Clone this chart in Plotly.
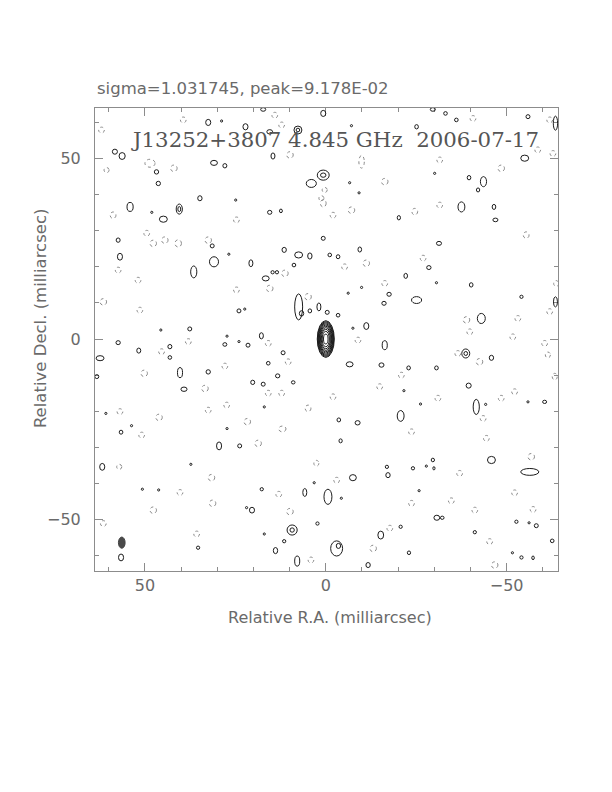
import plotly.graph_objects as go

# ---------------- data (milliarcsec) ----------------
# positive contour islands: centre x, centre y, full width, full height
pos_x = [32.5, 28.8, 22.2, 15.5, 7.7, 0.7, 17.3, 58.3, 56.3, 14.6, 30.9, 27.9, 46.8, 46.3, 0.7, 4.0,
         34.8, 24.9, 54.1, 48.1, 40.5, 44.9, 15.5, 12.4, 57.4, 31.4, 0.7, 56.9, 30.9, 20.7, 36.5, 11.5,
         7.5, 4.4, 8.8, 16.6, 14.7, 13.5, 26.8, 7.5, 4.4, 1.9, -0.4, 24.0, 22.4, 17.8, 37.6, 45.6, 27.3,
         -29.6, -33.1, -36.1, -55.9, -63.5, -7.1, -25.1, -55.0, -39.6, -43.6, -42.1, -37.5, -46.5, -46.9,
         -20.2, -6.6, -9.2, -31.3, -9.4, -1.1, -3.4, -28.5, -22.1, -30.6, -40.2, -30.1, -6.2, -9.9, -17.5,
         -16.1, -25.1, -54.1, -63.5, -43.0, -3.4, -11.2, -7.5,
         57.4, 51.7, 43.1, 43.1, 62.4, 63.3, 40.3, 32.5, 39.2, 27.9, 21.5, 24.0, 11.8, 15.9, 13.3, 20.2,
         17.3, 9.0, 17.0, 60.8, 56.6, 53.7, 27.3, 29.5, 23.8, 61.8, 37.3, 46.2, 50.7, 17.7, 20.4, 21.9,
         5.8, 3.2, -0.6, 9.3, 2.3, 17.0, 11.5, 35.3, 13.9, 7.9, 56.6,
         -16.3, -38.7, -45.8, -6.6, -15.4, -22.9, -30.6, -21.6, -39.5, -26.2, -20.7, -41.6, -44.2, -55.9,
         -60.5, -3.6, -8.8, -4.1, -29.6, -45.8, -56.4, -16.9, -17.2, -24.1, -27.8, -29.9, -7.5, -4.3,
         -25.8, -30.7, -32.2, -52.7, -58.2, -56.2, -20.7, -15.2, -41.2, -62.6, -3.0, -23.0, -51.6, -54.1,
         -57.3, -11.7]
pos_y = [60.0, 60.4, 58.8, 57.4, 57.9, 62.5, 63.6, 51.9, 50.7, 50.7, 48.8, 48.0, 46.3, 43.1, 45.4, 43.1,
         39.0, 38.5, 36.6, 35.1, 36.0, 33.2, 35.1, 35.5, 27.4, 25.8, 27.9, 22.8, 21.4, 21.0, 18.6, 24.7,
         23.3, 23.0, 20.5, 16.8, 18.5, 18.5, 23.5, 8.9, 7.8, 8.9, 7.4, 7.8, 8.3, 0.9, 2.8, 2.5, 0.8,
         63.6, 62.5, 60.7, 61.6, 59.8, 59.1, 58.8, 50.1, 44.7, 43.6, 41.3, 36.6, 36.6, 33.0,
         33.6, 43.3, 40.5, 26.5, 24.8, 23.3, 22.8, 19.8, 17.5, 15.6, 15.0, 45.9, 12.7, 14.3, 12.4,
         9.9, 10.8, 11.7, 10.3, 5.7, 6.6, 3.6, 3.0,
         -1.0, -3.2, -2.1, -5.1, -5.3, -10.4, -9.3, -9.1, -13.9, -1.5, -1.7, -0.7, -3.8, -6.7, -10.2, -12.0,
         -12.5, -12.0, -18.8, -20.6, -25.8, -24.0, -24.8, -29.6, -29.6, -35.4, -34.7, -41.8, -41.6, -41.6, -47.4, -46.7,
         -42.5, -39.8, -43.7, -52.9, -51.1, -54.0, -56.0, -57.8, -58.6, -61.5, -60.5,
         -1.7, -4.0, -5.2, -7.0, -7.2, -8.0, -8.0, -14.3, -12.9, -18.0, -21.3, -18.8, -18.1, -17.4,
         -17.4, -22.4, -23.2, -28.2, -33.5, -33.5, -36.8, -35.4, -37.7, -35.8, -35.2, -35.8, -38.4, -44.1,
         -42.0, -49.5, -49.5, -50.6, -51.7, -50.9, -52.0, -54.3, -53.5, -55.9, -58.0, -59.2, -59.2, -60.5,
         -60.6, -62.6]
pos_w = [1.4, 0.6, 1.4, 1.6, 2.2, 1.4, 1.4, 1.4, 1.7, 1.1, 1.9, 1.1, 1.2, 1.2, 3.3, 2.8,
         1.2, 0.6, 1.7, 0.6, 1.7, 2.2, 1.2, 0.8, 1.1, 1.1, 1.1, 1.4, 2.5, 1.1, 1.7, 1.2,
         2.2, 1.2, 1.0, 1.9, 0.9, 0.9, 0.6, 2.2, 1.0, 1.1, 1.1, 1.1, 0.6, 1.1, 1.1, 0.6, 0.6,
         1.4, 1.0, 1.0, 1.1, 1.2, 0.6, 1.0, 2.2, 1.0, 1.7, 0.9, 1.9, 1.0, 1.4,
         0.9, 0.6, 0.6, 1.4, 1.0, 1.0, 1.0, 1.2, 1.0, 0.6, 1.0, 0.6, 0.6, 0.6, 1.2,
         1.2, 2.8, 0.9, 1.1, 2.2, 1.0, 1.4, 0.6,
         1.2, 1.1, 1.1, 1.0, 2.2, 1.1, 1.4, 1.2, 1.7, 1.1, 1.1, 0.6, 1.1, 1.0, 1.2, 1.1,
         1.1, 1.0, 0.6, 0.6, 1.0, 0.6, 0.6, 1.4, 1.1, 1.4, 0.6, 0.6, 0.6, 0.9, 1.4, 0.6,
         1.1, 0.6, 2.2, 2.8, 0.9, 0.6, 0.9, 0.9, 1.2, 1.4, 1.4,
         1.4, 2.2, 1.2, 1.9, 1.4, 1.0, 1.0, 0.6, 1.4, 0.6, 1.9, 1.7, 0.6, 0.6,
         1.1, 1.0, 1.4, 0.9, 0.9, 2.2, 5.0, 0.9, 1.2, 0.9, 0.6, 0.6, 1.9, 0.6,
         0.6, 1.6, 1.0, 0.9, 1.1, 0.6, 0.9, 1.6, 0.9, 1.0, 3.3, 0.9, 0.6, 0.9,
         0.7, 1.2]
pos_h = [1.7, 0.6, 1.7, 1.2, 2.2, 1.7, 1.0, 1.4, 1.9, 1.7, 1.4, 1.2, 1.2, 1.2, 2.8, 2.2,
         1.4, 0.6, 2.5, 0.6, 2.8, 1.7, 1.1, 1.0, 1.2, 1.1, 1.1, 1.9, 2.8, 1.9, 3.3, 1.4,
         1.7, 1.7, 1.0, 1.4, 0.9, 0.9, 0.6, 7.2, 1.1, 2.2, 1.1, 1.1, 0.6, 1.7, 1.1, 0.6, 0.6,
         1.0, 1.0, 1.0, 1.1, 3.9, 0.6, 1.2, 1.7, 1.2, 2.8, 1.1, 2.8, 1.4, 1.0,
         1.2, 0.6, 0.6, 1.1, 1.4, 1.0, 1.1, 1.1, 1.4, 0.6, 1.2, 0.6, 0.6, 0.6, 1.1,
         1.1, 1.9, 0.9, 2.8, 2.8, 1.0, 1.9, 0.6,
         1.1, 1.4, 1.2, 1.0, 1.4, 1.1, 2.8, 1.2, 1.2, 1.0, 1.1, 0.6, 1.1, 1.0, 1.1, 1.2,
         1.1, 0.9, 0.6, 0.6, 1.1, 0.6, 0.6, 2.2, 1.1, 1.9, 0.6, 0.6, 0.6, 0.9, 1.6, 0.6,
         2.2, 0.6, 4.2, 2.8, 0.9, 0.6, 0.9, 0.9, 1.7, 2.8, 1.9,
         2.5, 2.5, 1.4, 1.4, 1.2, 1.1, 1.1, 0.6, 1.4, 0.6, 3.0, 4.2, 0.6, 0.6,
         0.9, 1.1, 1.2, 1.1, 1.0, 2.0, 1.9, 0.9, 1.4, 0.9, 0.6, 0.9, 1.7, 0.6,
         0.6, 1.4, 0.9, 0.9, 1.1, 0.6, 0.9, 2.2, 0.9, 1.0, 4.2, 1.0, 0.6, 0.9,
         1.0, 1.4]

# second (inner) contour of the brighter islands
in2_x = [7.7, 0.7, 40.5, 6.7, 9.3, -38.7, -3.5]
in2_y = [57.9, 45.4, 36.0, 7.1, -52.9, -4.0, -57.3]
in2_w = [1.0, 1.5, 0.8, 1.2, 1.2, 1.0, 1.2]
in2_h = [1.0, 1.2, 1.4, 1.5, 1.2, 1.1, 1.4]

# negative contour islands (dotted)
neg_x = [62.0, 48.6, 42.0, 39.4, 14.1, 12.2, 9.9, 58.8, 47.7, 44.5, 49.5, 32.5, 40.8, 11.3, 24.7, 15.5,
         4.9, 51.4, 61.5, 0.7, 24.7, 60.6, 51.9, 57.4, -9.9, -16.3, -31.5, -48.5, -2.0, -7.1, -24.6,
         -31.5, -55.4, -11.2, -5.2, -16.3, -26.9, -38.9, -53.1, -61.9, -63.7, 1.2, 0.3, -40.7, -61.9,
         -62.8, -58.6, 38.0, 45.4, 50.2, 33.4, 15.9, 12.2, 10.4, 15.9, 56.9, 46.1, 32.5, 27.4, 21.7,
         12.0, 4.9, 50.9, 18.7, 31.6, 40.3, 13.0, 31.3, 47.7, 9.9, 61.5, 35.7, 4.1, 2.6, 57.1, 27.9,
         -8.9, -39.8, -51.7, -60.5, -36.5, -42.5, -20.9, -14.9, -2.0, -31.0, -52.2, -63.3, -48.5,
         -43.5, -23.7, -44.4, -56.8, -37.0, -3.0, -52.2, -23.7, -34.7, -41.2, -57.3, -17.7, -13.1,
         -45.3, -46.7, -61.4]
neg_y = [57.9, 48.7, 47.3, 60.7, 62.0, 59.3, 51.0, 34.3, 26.5, 27.4, 29.3, 27.4, 26.5, 18.2, 13.6, 14.0,
         11.7, 8.0, 10.3, 37.6, 33.0, 46.8, 16.3, 19.1, 49.1, 43.6, 49.6, 47.3, 34.3, 35.7, 35.3,
         37.1, 28.8, 21.0, 20.0, 15.4, 22.4, 5.3, 5.7, 7.6, 15.4, 39.0, 41.3, 61.1, 60.7,
         51.4, 52.4, -0.7, -3.5, -9.5, -13.7, -15.0, -15.0, -6.3, -1.2, -20.1, -21.7, -19.7, -18.3, -22.9,
         -24.9, -19.2, -26.6, -28.9, -38.4, -42.5, -43.0, -45.5, -47.4, -47.8, -51.1, -54.0, -61.2, -34.4, -35.4, -7.5,
         -0.3, 2.0, 0.6, -1.2, -4.0, -6.3, -10.0, -13.2, -16.0, -16.4, -14.6, -10.4, -16.4,
         -22.0, -25.7, -27.5, -32.6, -37.2, -39.1, -42.6, -45.5, -44.8, -47.4, -47.2, -52.4, -58.0,
         -56.1, -62.6, -4.4]
neg_w = [1.6, 2.8, 1.8, 1.6, 1.6, 1.6, 1.8, 1.6, 1.8, 1.8, 1.6, 1.8, 1.8, 1.8, 1.6, 1.8,
         1.8, 1.6, 1.8, 1.6, 1.6, 1.4, 1.6, 1.6, 1.5, 1.8, 1.6, 1.8, 1.6, 1.8, 1.6,
         1.6, 1.6, 1.8, 1.6, 1.6, 1.6, 1.8, 1.6, 1.6, 1.4, 1.4, 1.4, 1.6, 1.6,
         1.6, 1.6, 1.6, 1.6, 1.8, 1.8, 1.6, 1.6, 1.6, 1.6, 1.6, 1.8, 1.6, 1.6, 1.8,
         2.0, 1.6, 1.6, 1.8, 1.8, 1.6, 1.6, 1.8, 1.8, 1.8, 1.6, 1.6, 1.6, 1.4, 1.4, 1.6,
         1.6, 1.6, 1.6, 1.6, 1.6, 1.8, 1.6, 1.6, 1.6, 1.6, 1.6, 1.4, 1.6,
         1.6, 1.6, 1.6, 1.8, 1.6, 1.6, 1.6, 1.6, 1.6, 1.6, 1.6, 1.6, 1.8,
         1.6, 1.8, 1.4]
neg_h = [1.6, 2.2, 1.8, 1.6, 1.6, 1.6, 1.8, 1.8, 1.8, 1.8, 1.6, 1.8, 2.0, 1.8, 1.6, 1.8,
         1.8, 1.6, 1.8, 2.0, 1.6, 1.4, 1.6, 1.6, 3.5, 1.8, 1.6, 1.8, 1.6, 1.8, 1.8,
         1.6, 1.8, 1.8, 1.6, 1.6, 1.6, 1.8, 1.6, 1.6, 1.6, 1.4, 1.4, 1.6, 1.6,
         1.6, 1.6, 1.6, 1.6, 1.8, 1.8, 1.6, 1.6, 1.6, 1.6, 1.6, 1.8, 1.6, 1.6, 1.8,
         1.6, 1.8, 1.6, 1.8, 1.8, 1.6, 1.6, 1.8, 1.8, 1.8, 1.6, 1.6, 1.6, 1.6, 1.4, 1.6,
         1.6, 1.6, 1.6, 1.6, 1.6, 1.8, 1.6, 1.6, 1.6, 1.6, 1.6, 1.8, 1.6,
         1.6, 1.6, 1.6, 1.8, 1.6, 1.6, 1.6, 1.6, 1.6, 1.6, 1.6, 1.6, 1.8,
         1.6, 1.8, 1.6]

# central component: nested contour widths/heights (outermost first)
core_x = 0.0
core_y = 0.0
core_w = [4.7, 4.45, 4.19, 3.91, 3.60, 3.28, 2.91, 2.49, 1.98, 1.26]
core_h = [10.2, 9.66, 9.09, 8.48, 7.82, 7.12, 6.32, 5.41, 4.29, 2.73]

# restoring beam
beam_x, beam_y, beam_w, beam_h = 56.4, -56.4, 1.85, 3.1

x_ticks = [50, 0, -50]
y_ticks = [50, 0, -50]
x_range = [63.8, -64.2]
y_range = [-64.25, 64.0]

header_text = "sigma=1.031745, peak=9.178E-02"
map_title = "J13252+3807 4.845 GHz\u00a0\u00a02006-07-17"
x_title = "Relative R.A. (milliarcsec)"
y_title = "Relative Decl. (milliarcsec)"

# ---------------- figure ----------------
POS_COL = "#1c1c1c"
NEG_COL = "#8a8a8a"
AX_COL = "#8c8c8c"
TXT_COL = "#6a6a6a"

shapes = []


def ell(x, y, w, h, color, dash="solid", fill=None):
    d = dict(type="circle", xref="x", yref="y",
             x0=x - w / 2, x1=x + w / 2, y0=y - h / 2, y1=y + h / 2,
             line=dict(color=color, width=1, dash=dash), layer="above")
    if fill:
        d["fillcolor"] = fill
    return d


for x, y, w, h in zip(neg_x, neg_y, neg_w, neg_h):
    shapes.append(ell(x, y, w, h, NEG_COL, dash="dot"))
for x, y, w, h in zip(pos_x, pos_y, pos_w, pos_h):
    shapes.append(ell(x, y, w, h, POS_COL))
for x, y, w, h in zip(in2_x, in2_y, in2_w, in2_h):
    shapes.append(ell(x, y, w, h, POS_COL))
for w, h in zip(core_w, core_h):
    shapes.append(ell(core_x, core_y, w, h, POS_COL))
shapes.append(ell(beam_x, beam_y, beam_w, beam_h, "#444444", fill="#4a4a4a"))

fig = go.Figure()
fig.add_trace(go.Scatter(x=[], y=[], mode="markers", showlegend=False))

axis_common = dict(
    showline=True, linecolor=AX_COL, linewidth=1, mirror="ticks",
    ticks="inside", ticklen=8, tickwidth=1, tickcolor=AX_COL,
    showgrid=False, zeroline=False,
    tickfont=dict(family="DejaVu Sans", size=16, color=TXT_COL),
    minor=dict(ticks="inside", ticklen=4, tickwidth=1, tickcolor=AX_COL,
               dtick=10, tick0=0, showgrid=False),
)

# page body has an 8px margin, so the figure is 8px smaller than the window
fig.update_layout(
    width=604, height=784,
    margin=dict(l=87, r=54, t=100, b=221),
    paper_bgcolor="white", plot_bgcolor="white",
    showlegend=False,
    xaxis=dict(range=x_range, tickvals=x_ticks, ticktext=["50", "0", "\u221250"],
               ticklabelstandoff=0, **axis_common),
    yaxis=dict(range=y_range, tickvals=y_ticks, ticktext=["50", "0", "\u221250"],
               ticklabelstandoff=10, **axis_common),
    shapes=shapes,
    annotations=[
        dict(text=header_text, xref="paper", yref="paper", x=0.0, y=1.043,
             xanchor="left", yanchor="middle", showarrow=False,
             font=dict(family="DejaVu Sans", size=16.5, color=TXT_COL)),
        dict(text=map_title, xref="paper", yref="paper", x=0.0734, y=0.931,
             xanchor="left", yanchor="middle", showarrow=False,
             font=dict(family="DejaVu Serif", size=21.3, color="#555555")),
        dict(text=x_title, xref="paper", yref="paper", x=0.507, y=-0.10,
             xanchor="center", yanchor="middle", showarrow=False,
             font=dict(family="DejaVu Sans", size=16, color=TXT_COL)),
        dict(text=y_title, xref="paper", yref="paper", x=-0.119, y=0.546,
             xanchor="center", yanchor="middle", showarrow=False, textangle=-90,
             font=dict(family="DejaVu Sans", size=16.5, color=TXT_COL)),
    ],
)

fig.write_html("out.html")
